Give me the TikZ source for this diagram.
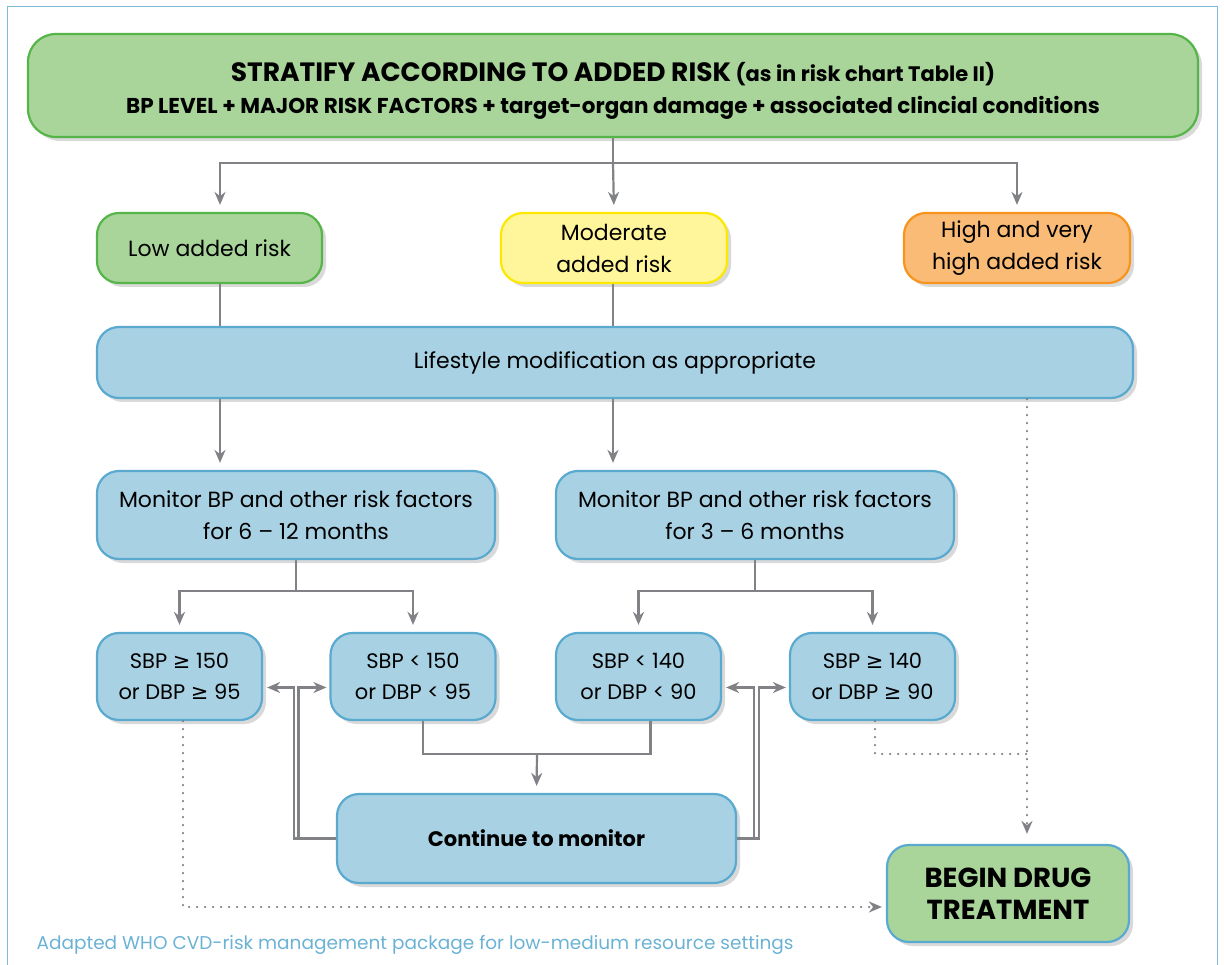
\documentclass[tikz,border=0pt]{standalone}
\usepackage{fontspec}
\setmainfont{Poppins}
\newfontfamily\symfont{DejaVu Sans}
\usetikzlibrary{arrows.meta,shadows}
\definecolor{leafgreen}{HTML}{A9D59B}
\definecolor{leafedge}{HTML}{55B548}
\definecolor{lemon}{HTML}{FFF59A}
\definecolor{lemonedge}{HTML}{FDE800}
\definecolor{peach}{HTML}{F9BB76}
\definecolor{peachedge}{HTML}{F7941E}
\definecolor{sky}{HTML}{A8D1E3}
\definecolor{skyedge}{HTML}{5AAACF}
\definecolor{wire}{HTML}{808285}
\newcommand{\gesign}{{\symfont ≥}}

\begin{document}
\begin{tikzpicture}[x=1pt,y=-1pt,
		box/.style={rounded corners=22pt,line width=2.2pt,align=center,inner sep=0pt,
			font=\fontsize{22}{32}\selectfont,
			drop shadow={shadow xshift=4pt,shadow yshift=-4pt,opacity=0.3}},
		greenbox/.style={box,fill=leafgreen,draw=leafedge},
		skybox/.style={box,fill=sky,draw=skyedge},
		bpbox/.style={skybox,minimum width=165pt,minimum height=87pt,font=\fontsize{21}{31}\selectfont},
		link/.style={draw=wire,line width=2.2pt},
		arr/.style={link,-{Stealth[length=13pt,width=11pt]},shorten >=7pt},
		dots/.style={draw=wire,line width=2.4pt,line cap=round,dash pattern=on 0pt off 8pt},
		dotarr/.style={dots,-{Stealth[length=13pt,width=11pt,fill=wire]},shorten >=7pt}]
	\useasboundingbox (0,0) rectangle (1224,965);
	\draw[skyedge!80,line width=1.2pt] (7.5,6.5) rectangle (1217.5,990);

	\node[greenbox,rounded corners=28pt,minimum width=1170pt,minimum height=103pt,text height=62pt,font=\fontsize{21}{32}\selectfont\bfseries] (stratify) at (613,85.5)
		{{\fontsize{26.5}{32}\selectfont STRATIFY ACCORDING TO ADDED RISK} (as in risk chart Table II)\\
		{\fontsize{21.5}{32}\selectfont BP LEVEL + MAJOR RISK FACTORS + target-organ damage + associated clincial conditions}};
	\node[greenbox,minimum width=225pt,minimum height=70pt] (low) at (209.5,248) {Low added risk};
	\node[box,fill=lemon,draw=lemonedge,minimum width=226pt,minimum height=70pt] (moderate) at (614,248) {Moderate\\added risk};
	\node[box,fill=peach,draw=peachedge,minimum width=226pt,minimum height=70pt] (high) at (1017,248) {High and very\\high added risk};
	\node[skybox,minimum width=1036pt,minimum height=71pt] (lifestyle) at (615,362.5) {Lifestyle modification as appropriate};
	\node[skybox,minimum width=398pt,minimum height=88pt] (mon1) at (296,515) {Monitor BP and other risk factors\\for 6 -- 12 months};
	\node[skybox,minimum width=398pt,minimum height=88pt] (mon2) at (755,515) {Monitor BP and other risk factors\\for 3 -- 6 months};
	\node[bpbox] (sbp1) at (179.5,676.5) {SBP \gesign{} 150\\or DBP \gesign{} 95};
	\node[bpbox] (sbp2) at (413,676.5) {SBP < 150\\or DBP < 95};
	\node[bpbox] (sbp3) at (638.5,676.5) {SBP < 140\\or DBP < 90};
	\node[bpbox] (sbp4) at (872.5,676.5) {SBP \gesign{} 140\\or DBP \gesign{} 90};
	\node[skybox,minimum width=399pt,minimum height=89pt,font=\fontsize{21}{31}\selectfont\bfseries] (cont) at (536.5,838.5) {Continue to monitor};
	\node[box,fill=leafgreen,draw=skyedge,minimum width=242pt,minimum height=97pt,font=\fontsize{27.5}{32}\selectfont\bfseries] (drug) at (1008,893.5) {BEGIN DRUG\\TREATMENT};
	\node[anchor=west,text=skyedge!90,font=\fontsize{18.5}{22}\selectfont] (source) at (33,945)
		{Adapted WHO CVD-risk management package for low-medium resource settings};

	\coordinate (split) at (613,163);
	\coordinate (colA) at (220,0);
	\coordinate (colC) at (1027,0);
	\coordinate (merge) at (537,754);
	\draw[link] (stratify.south) -- (split);
	\draw[arr] (split) -| (low.north -| colA);
	\draw[arr] (split) -- (moderate.north);
	\draw[arr] (split) -| (high.north);
	\draw[link] (low.south -| colA) -- (lifestyle.north -| colA);
	\draw[link] (moderate.south -| split) -- (lifestyle.north -| split);
	\draw[arr] (lifestyle.south -| colA) -- (mon1.north -| colA);
	\draw[arr] (lifestyle.south -| split) -- (mon2.north -| split);
	\draw[link] (mon1.south) -- ++(0,31) coordinate (fork1);
	\draw[arr] (fork1) -| (sbp1.north);
	\draw[arr] (fork1) -| (sbp2.north);
	\draw[link] (mon2.south) -- ++(0,31) coordinate (fork2);
	\draw[arr] (fork2) -| (sbp3.north);
	\draw[arr] (fork2) -| (sbp4.north);
	\draw[link] ([xshift=10pt]sbp2.south) |- (merge) -| ([xshift=12pt]sbp3.south);
	\draw[arr] (merge) -- (cont.north);
	\draw[arr,shorten >=4pt] (cont.west) -| ([xshift=31pt,yshift=-11pt]sbp1.east) -- ([yshift=-11pt]sbp1.east);
	\draw[arr,shorten >=3pt] (cont.west) -| ([xshift=-31pt,yshift=-11pt]sbp2.west) -- ([yshift=-11pt]sbp2.west);
	\draw[arr,shorten >=4pt] (cont.east) -| ([xshift=32pt,yshift=-11pt]sbp3.east) -- ([yshift=-11pt]sbp3.east);
	\draw[arr,shorten >=3pt] (cont.east) -| ([xshift=-30pt,yshift=-11pt]sbp4.west) -- ([yshift=-11pt]sbp4.west);
	\draw[dotarr,shorten >=4pt] ([xshift=3.5pt]sbp1.south) |- ([yshift=-13.5pt]drug.west);
	\draw[dots] ([xshift=2.5pt]sbp4.south) |- (merge -| colC);
	\draw[dotarr,shorten >=10pt] (lifestyle.south -| colC) -- (drug.north -| colC);
\end{tikzpicture}
\end{document}
